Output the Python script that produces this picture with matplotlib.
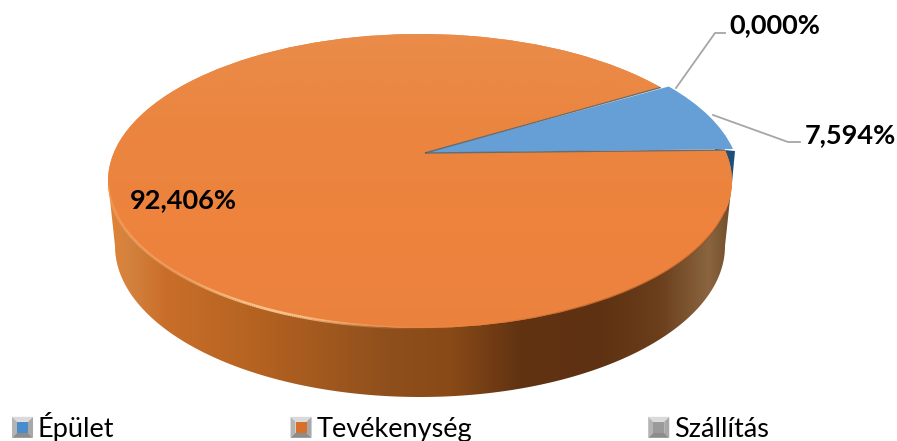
import numpy as np
import matplotlib
matplotlib.use("Agg")
import matplotlib.pyplot as plt
from matplotlib.patches import Patch, PathPatch, Polygon, Rectangle
from matplotlib.path import Path
from matplotlib.transforms import Affine2D
from matplotlib.collections import LineCollection
from matplotlib.colors import LinearSegmentedColormap
from matplotlib.legend_handler import HandlerBase

plt.rcParams['font.family'] = ['Lato', 'DejaVu Sans']

categories = ['Épület', 'Tevékenység', 'Szállítás']
shares = [7.594, 92.406, 0.0]
labels = ['7,594%', '92,406%', '0,000%']
colors = ['#659FD6', '#EC843F', '#A5A5A5']
legend_colors = ['#4A8BCB', '#D9702A', '#9A9A9A']

W, H = 897, 441
fig = plt.figure(figsize=(W / 100, H / 100), dpi=100)
ax = fig.add_axes([0, 0, 1, 1])

# ellipse geometry in pixels
CX, CY, A, B = 420, 181, 312, 147
BX, BY, BA, BB = 420, 246, 305, 151
APEX = (425, 153)

wedges, _ = ax.pie(shares, colors=colors, startangle=39.5, counterclock=False,
                   radius=1, center=(0, 0), frame=False,
                   wedgeprops=dict(linewidth=0))


def project(w, cx, cy):
    """Move the wedge into the perspective view, apex included."""
    T = Affine2D().scale(A, -B).translate(cx, cy)
    p = w.get_path()
    v = p.vertices.copy()
    near = np.hypot(v[:, 0], v[:, 1]) < 1e-6
    px = T.transform(v)
    px[near] = APEX
    return Path(px, p.codes)


blue_path = project(wedges[0], CX + 8, CY - 1)
orange_path = project(wedges[1], CX, CY)
for w in wedges:
    w.set_visible(False)

ax.set_xlim(0, W)
ax.set_ylim(H, 0)
ax.set_aspect('auto')
ax.axis('off')


def seam_ends(path):
    v = path.vertices
    keep = np.hypot(v[:, 0] - APEX[0], v[:, 1] - APEX[1]) > 1
    return v[keep][0], v[keep][-1]


blue_a, blue_b = seam_ends(blue_path)
corner = blue_a if blue_a[1] > blue_b[1] else blue_b

# dark-blue side of the small slice, extruded from the slice's right corner
ax.add_patch(Polygon(corner + np.array([[-18, 0], [2, 2], [-1, 34], [-18, 34]]),
                     closed=True, fc='#1F4E79', ec='none', zorder=1))

# orange side wall with horizontal shading
t = np.linspace(np.pi, 0, 240)
side_xy = np.vstack([
    [[CX - A, CY]],
    np.c_[BX + BA * np.cos(t), BY + BB * np.sin(t)],
    [[CX + A, CY], [CX, CY - 5]],
])
side_poly = Polygon(side_xy, closed=True, fc='none', ec='none', transform=ax.transData)
ax.add_patch(side_poly)
stops = [(108, '#E08236'), (128, '#D4823F'), (165, '#C96E2A'), (260, '#B46221'),
         (390, '#8E4F1C'), (450, '#8A4A18'), (520, '#613312'), (600, '#5E3112'),
         (660, '#6B3E1C'), (710, '#8A6540'), (735, '#6E4A28')]
cmap_side = LinearSegmentedColormap.from_list(
    'side', [((x - 108) / (735 - 108), c) for x, c in stops])
im = ax.imshow(np.linspace(0, 1, 512)[None, :], extent=(108, 735, 400, 170),
               cmap=cmap_side, aspect='auto', zorder=2, interpolation='bilinear')
im.set_clip_path(side_poly)

# top face of the big slice with a faint vertical gradient
face_patch = PathPatch(orange_path, fc='#EC843F', ec='none', zorder=3)
ax.add_patch(face_patch)
cmap_face = LinearSegmentedColormap.from_list('face', ['#EA8C4A', '#EA853F', '#EE833D', '#EA823E'])
im2 = ax.imshow(np.linspace(0, 1, 256)[:, None], extent=(100, 740, 335, 30),
                cmap=cmap_face, aspect='auto', zorder=3.1, origin='upper')
im2.set_clip_path(face_patch)

# rim highlight along the front of the top face
t = np.radians(np.linspace(178, 12, 400))
ex = CX + A * np.cos(t)
ey = CY + B * np.sin(t)
pts = np.c_[ex, ey]
segs = np.stack([pts[:-1], pts[1:]], axis=1)
mid = ex[:-1]
alpha_hi = np.exp(-((mid - 270) / 90.0) ** 2) * 0.9 + np.exp(-((mid - 130) / 40.0) ** 2) * 0.25
seg_cols = np.zeros((len(mid), 4))
seg_cols[:, :3] = matplotlib.colors.to_rgb('#FFD09A')
seg_cols[:, 3] = alpha_hi
ax.add_collection(LineCollection(segs, colors=seg_cols, linewidths=2.0, zorder=3.3))
alpha_lo = np.clip((mid - 480) / 100.0, 0, 1) * 0.35
seg_cols2 = np.zeros((len(mid), 4))
seg_cols2[:, :3] = matplotlib.colors.to_rgb('#7A4018')
seg_cols2[:, 3] = alpha_lo
ax.add_collection(LineCollection(segs, colors=seg_cols2, linewidths=1.5, zorder=3.3))

# blue top face
ax.add_patch(PathPatch(blue_path, fc=colors[0], ec='none', zorder=4))

# dark seams where the slices meet (drawn along the orange slice's cut edges)
for e in seam_ends(orange_path):
    ax.plot([APEX[0], e[0]], [APEX[1], e[1]], color='#4F5F68', lw=1.0, alpha=0.8, zorder=4.2,
            solid_capstyle='butt')

# leader lines
ax.plot([676, 715, 725], [88, 33, 33], color='#A6A6A6', lw=1.3, zorder=5)
ax.plot([713, 788, 800], [115, 142, 142], color='#A6A6A6', lw=1.3, zorder=5)

# data labels
tkw = dict(fontsize=19.5, fontweight='bold', color='black', va='center', ha='left', zorder=6)
ax.text(805, 135, labels[0], **tkw)
ax.text(130, 200, labels[1], **tkw)
ax.text(729, 25, labels[2], **tkw)


class BevelHandler(HandlerBase):
    def create_artists(self, legend, orig, xd, yd, w, h, fs, trans):
        x0, y0 = -xd, -yd - 1.5
        s = h + 3
        w = max(w, s)
        b = s * 0.24
        x1, y1 = x0 + w, y0 + s

        def tri(p, c):
            return Polygon(p, closed=True, fc=c, ec='none', transform=trans)
        return [
            tri([(x0, y1), (x1, y1), (x1 - b, y1 - b), (x0 + b, y1 - b)], '#DADADA'),
            tri([(x0, y0), (x0, y1), (x0 + b, y1 - b), (x0 + b, y0 + b)], '#B4B4B4'),
            tri([(x1, y0), (x1, y1), (x1 - b, y1 - b), (x1 - b, y0 + b)], '#A8A8A8'),
            tri([(x0, y0), (x1, y0), (x1 - b, y0 + b), (x0 + b, y0 + b)], '#8C8C8C'),
            Rectangle((x0 + b, y0 + b), w - 2 * b, s - 2 * b, fc=orig.get_facecolor(), ec='none',
                      transform=trans),
        ]


handles = [Patch(facecolor=c, label=n) for c, n in zip(legend_colors, categories)]
ax.legend(handles=handles, ncol=3, loc='lower left', bbox_to_anchor=(12 / W, -0.002),
          bbox_transform=fig.transFigure, frameon=False, fontsize=19.5,
          handlelength=0.74, handleheight=0.58, handletextpad=0.22, columnspacing=6.5,
          borderpad=0, borderaxespad=0,
          handler_map={Patch: BevelHandler()})

fig.savefig('out.png', dpi=100)
